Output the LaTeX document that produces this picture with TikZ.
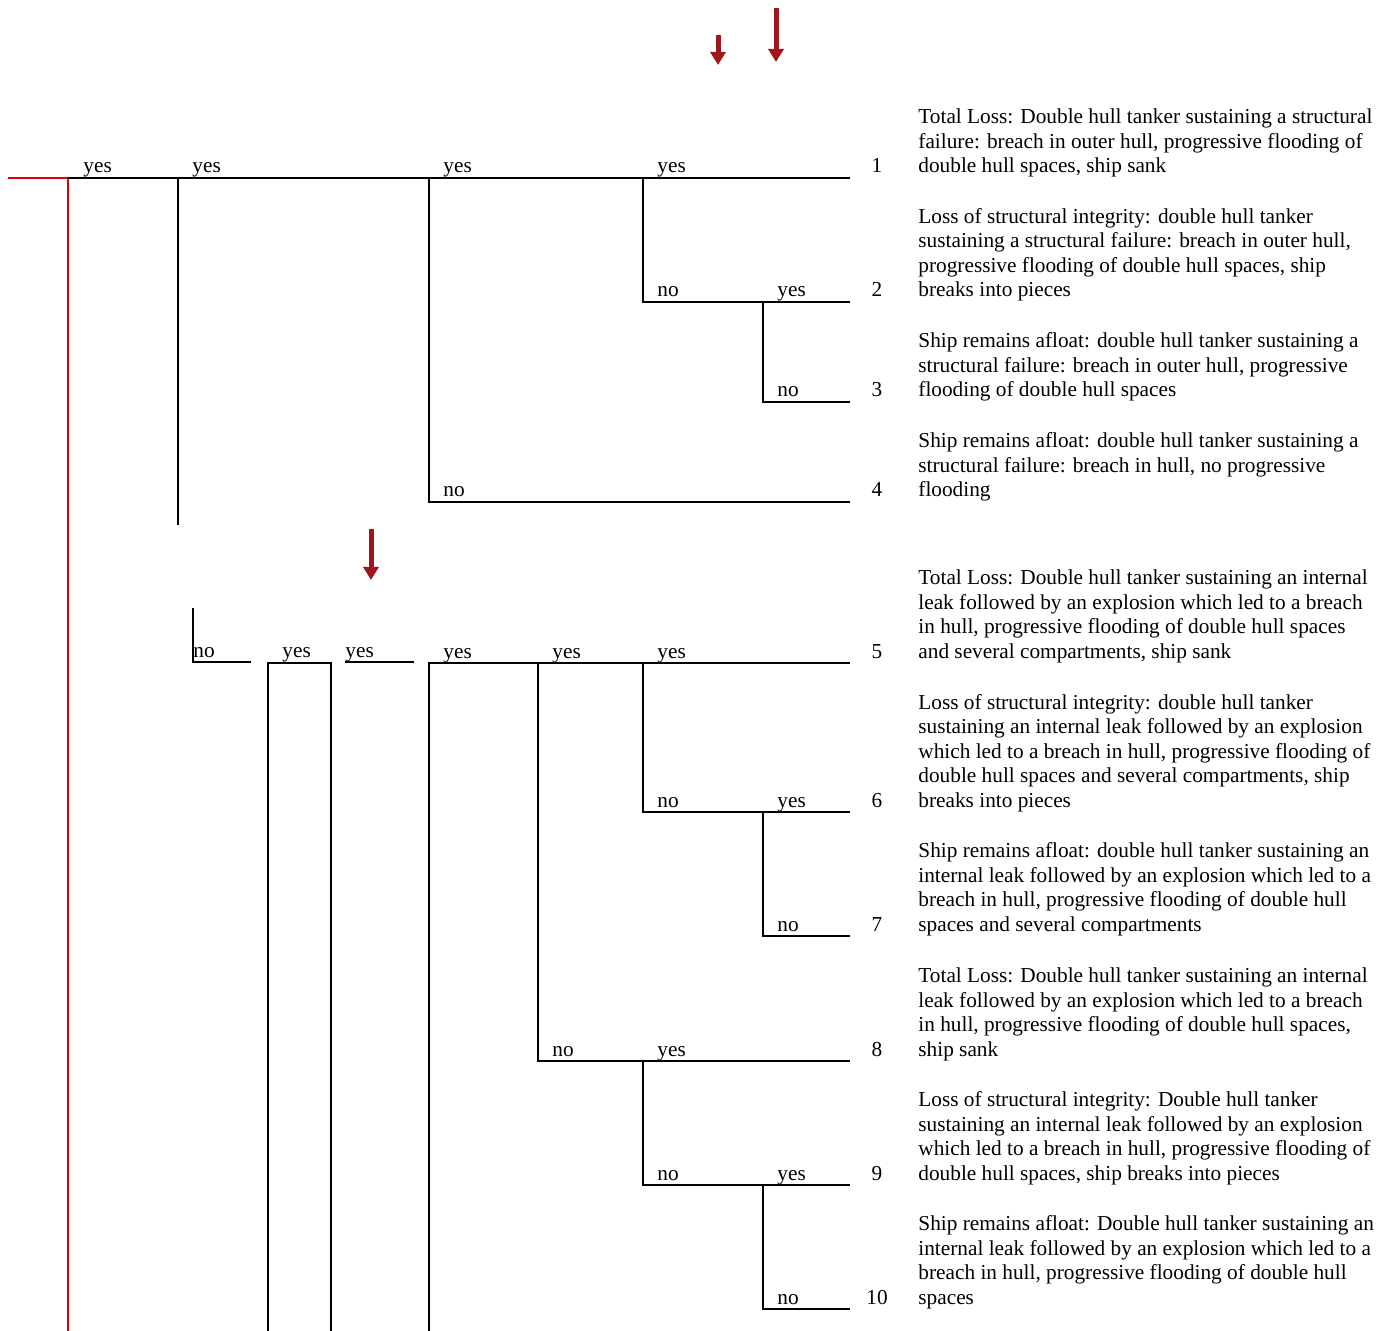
\documentclass[tikz,border=0pt]{standalone}
\usepackage{fontspec}
\setmainfont{Liberation Serif}
\usetikzlibrary{arrows.meta}
\definecolor{arrowred}{RGB}{160,22,28}
\definecolor{startred}{RGB}{225,0,0}
\tikzset{
  branch/.style={line width=0.9pt},
  lbl/.style={anchor=base west,inner sep=0pt,font=\fontsize{10.65}{12.25}\selectfont},
  num/.style={anchor=base,inner sep=0pt,font=\fontsize{10.65}{12.25}\selectfont},
  desc/.style={anchor=base west,inner sep=0pt,align=left,font=\fontsize{10.65}{12.25}\selectfont},
  down/.style={arrowred,line width=2.5pt,-{Triangle[width=7.5pt,length=6.5pt]}}
}
\begin{document}
\begin{tikzpicture}[x=0.5pt,y=-0.5pt]
\useasboundingbox (0,0) rectangle (1392,1331);
\draw[down] (718,35)--(718,65);
\draw[down] (776,8)--(776,62);
\draw[down] (371,529)--(371,580);
\draw[startred,line width=0.9pt] (8,178)--(68,178)--(68,1331);
\draw[branch] (68,178)--(850,178);
\draw[branch] (178,178)--(178,525);
\draw[branch] (429,178)--(429,502)--(850,502);
\draw[branch] (643,178)--(643,302)--(850,302);
\draw[branch] (763,302)--(763,402)--(850,402);
\draw[branch] (193,608)--(193,662)--(251,662);
\draw[branch] (268,1331)--(268,663)--(331,663)--(331,1331);
\draw[branch] (345,662)--(414,662);
\draw[branch] (429,1331)--(429,663)--(850,663);
\draw[branch] (538,663)--(538,1061)--(850,1061);
\draw[branch] (643,663)--(643,812)--(850,812);
\draw[branch] (763,812)--(763,936)--(850,936);
\draw[branch] (643,1061)--(643,1185)--(850,1185);
\draw[branch] (763,1185)--(763,1309)--(850,1309);
\foreach \t/\x/\y [count=\i] in {yes/83/173,yes/192/173,yes/443/173,yes/657/173,
  no/657/297,yes/777/297,no/777/397,no/443/497,
  no/193/657,yes/282/657,yes/345/657,yes/443/658,yes/552/658,yes/657/658,
  no/657/807,yes/777/807,no/777/931,no/552/1056,yes/657/1056,
  no/657/1180,yes/777/1180,no/777/1304}
  \node[lbl] (l\i) at (\x,\y) {\t};
\foreach \y [count=\i] in {173,297,397,497,658,807,931,1056,1180,1304}
  \node[num] (n\i) at (877,\y) {\i};
\node[desc] (d1) at (918,173) {Total Loss: Double hull tanker sustaining a structural\\failure: breach in outer hull, progressive flooding of\\double hull spaces, ship sank};
\node[desc] (d2) at (918,297) {Loss of structural integrity: double hull tanker\\sustaining a structural failure: breach in outer hull,\\progressive flooding of double hull spaces, ship\\breaks into pieces};
\node[desc] (d3) at (918,397) {Ship remains afloat: double hull tanker sustaining a\\structural failure: breach in outer hull, progressive\\flooding of double hull spaces};
\node[desc] (d4) at (918,497) {Ship remains afloat: double hull tanker sustaining a\\structural failure: breach in hull, no progressive\\flooding};
\node[desc] (d5) at (918,658) {Total Loss: Double hull tanker sustaining an internal\\leak followed by an explosion which led to a breach\\in hull, progressive flooding of double hull spaces\\and several compartments, ship sank};
\node[desc] (d6) at (918,807) {Loss of structural integrity: double hull tanker\\sustaining an internal leak followed by an explosion\\which led to a breach in hull, progressive flooding of\\double hull spaces and several compartments, ship\\breaks into pieces};
\node[desc] (d7) at (918,931) {Ship remains afloat: double hull tanker sustaining an\\internal leak followed by an explosion which led to a\\breach in hull, progressive flooding of double hull\\spaces and several compartments};
\node[desc] (d8) at (918,1056) {Total Loss: Double hull tanker sustaining an internal\\leak followed by an explosion which led to a breach\\in hull, progressive flooding of double hull spaces,\\ship sank};
\node[desc] (d9) at (918,1180) {Loss of structural integrity: Double hull tanker\\sustaining an internal leak followed by an explosion\\which led to a breach in hull, progressive flooding of\\double hull spaces, ship breaks into pieces};
\node[desc] (d10) at (918,1304) {Ship remains afloat: Double hull tanker sustaining an\\internal leak followed by an explosion which led to a\\breach in hull, progressive flooding of double hull\\spaces};
\end{tikzpicture}
\end{document}
